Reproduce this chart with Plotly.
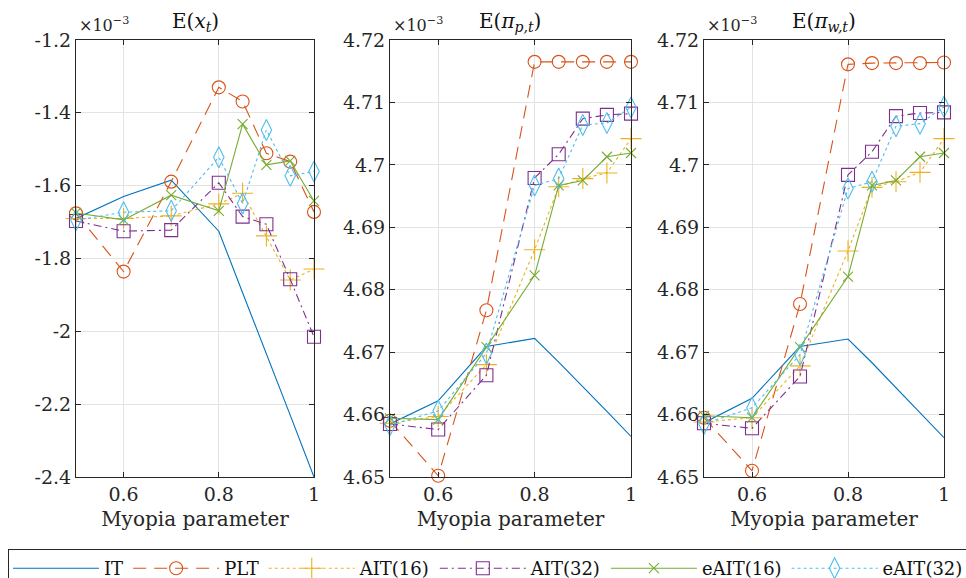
import plotly.graph_objects as go

x = [0.5, 0.6, 0.7, 0.8, 0.85, 0.9, 0.95, 1.0]
series_names = ["IT", "PLT", "AIT(16)", "AIT(32)", "eAIT(16)", "eAIT(32)"]

# Panel 1: E(x_t), units of 1e-3
ex_IT = [-1.69, -1.63, -1.585, -1.725, -1.894, -2.06, -2.23, -2.40]
ex_PLT = [-1.676, -1.836, -1.589, -1.330, -1.369, -1.511, -1.534, -1.672]
ex_AIT16 = [-1.690, -1.690, -1.683, -1.650, -1.621, -1.738, -1.859, -1.829]
ex_AIT32 = [-1.697, -1.725, -1.722, -1.592, -1.685, -1.706, -1.857, -2.015]
ex_eAIT16 = [-1.675, -1.694, -1.626, -1.669, -1.431, -1.543, -1.532, -1.642]
ex_eAIT32 = [-1.695, -1.673, -1.669, -1.522, -1.649, -1.447, -1.573, -1.561]

# Panel 2: E(pi_p,t), units of 1e-3
pp_IT = [4.6585, 4.6622, 4.6709, 4.6722, 4.6684, 4.6645, 4.6605, 4.6565]
pp_PLT = [4.6590, 4.6502, 4.6767, 4.7165, 4.7165, 4.7165, 4.7165, 4.7165]
pp_AIT16 = [4.6586, 4.6597, 4.6680, 4.6864, 4.6965, 4.6978, 4.6987, 4.7042]
pp_AIT32 = [4.6585, 4.6576, 4.6663, 4.6979, 4.7017, 4.7074, 4.7080, 4.7082]
pp_eAIT16 = [4.6594, 4.6592, 4.6708, 4.6823, 4.6967, 4.6975, 4.7013, 4.7019]
pp_eAIT32 = [4.6583, 4.6606, 4.6698, 4.6967, 4.6978, 4.7064, 4.7067, 4.7092]

# Panel 3: E(pi_w,t), units of 1e-3
pw_IT = [4.6587, 4.6626, 4.6709, 4.6721, 4.6683, 4.6643, 4.6603, 4.6563]
pw_PLT = [4.6595, 4.6510, 4.6777, 4.7161, 4.7163, 4.7163, 4.7163, 4.7164]
pw_AIT16 = [4.6588, 4.6595, 4.6678, 4.6862, 4.6964, 4.6973, 4.6988, 4.7042]
pw_AIT32 = [4.6586, 4.6578, 4.6661, 4.6984, 4.7021, 4.7078, 4.7083, 4.7084]
pw_eAIT16 = [4.6598, 4.6595, 4.6708, 4.6821, 4.6967, 4.6975, 4.7013, 4.7019]
pw_eAIT32 = [4.6585, 4.6611, 4.6696, 4.6962, 4.6973, 4.7062, 4.7066, 4.7093]

panel_titles = ["E(<i>x</i><sub><i>t</i></sub>)",
                "E(<i>π</i><sub><i>p,t</i></sub>)",
                "E(<i>π</i><sub><i>w,t</i></sub>)"]
x_tickvals = [0.6, 0.8, 1.0]
x_ticktext = ["0.6", "0.8", "1"]
y1_tickvals = [-2.4, -2.2, -2.0, -1.8, -1.6, -1.4, -1.2]
y1_ticktext = ["-2.4", "-2.2", "-2", "-1.8", "-1.6", "-1.4", "-1.2"]
y2_tickvals = [4.65, 4.66, 4.67, 4.68, 4.69, 4.70, 4.71, 4.72]
y2_ticktext = ["4.65", "4.66", "4.67", "4.68", "4.69", "4.7", "4.71", "4.72"]

colors = ["#0072BD", "#D95319", "#EDB120", "#7E2F8E", "#77AC30", "#4DBEEE"]
dashes = ["solid", "13px,8px", "dot", "8px,4px,2px,4px", "solid", "dot"]
symbols = [None, "circle-open", "cross-thin-open", "square-open", "x-thin-open", "diamond-tall-open"]
msizes = [0, 13, 15, 13, 10, 15]

panels = [
    [ex_IT, ex_PLT, ex_AIT16, ex_AIT32, ex_eAIT16, ex_eAIT32],
    [pp_IT, pp_PLT, pp_AIT16, pp_AIT32, pp_eAIT16, pp_eAIT32],
    [pw_IT, pw_PLT, pw_AIT16, pw_AIT32, pw_eAIT16, pw_eAIT32],
]

W, H = 966, 578
xdoms = [(76, 314), (390, 631), (704, 944)]
ytop, ybot = 40, 477
FONT = "DejaVu Serif"

fig = go.Figure()
for p, data in enumerate(panels):
    xa = "x" if p == 0 else f"x{p+1}"
    ya = "y" if p == 0 else f"y{p+1}"
    for i, ys in enumerate(data):
        kw = dict(x=x, y=ys, name=series_names[i], legendgroup=series_names[i],
                  showlegend=(p == 0), xaxis=xa, yaxis=ya, cliponaxis=False,
                  line=dict(color=colors[i], width=1.1, dash=dashes[i]))
        if symbols[i] is None:
            kw["mode"] = "lines"
        else:
            kw["mode"] = "lines+markers"
            kw["marker"] = dict(symbol=symbols[i], size=msizes[i], color=colors[i],
                                line=dict(color=colors[i], width=1.1))
        fig.add_trace(go.Scatter(**kw))

axis_common = dict(showline=True, linecolor="#262626", linewidth=1, mirror="ticks",
                   ticks="inside", ticklen=5, tickcolor="#262626",
                   showgrid=True, gridcolor="#e3e3e3", gridwidth=1, zeroline=False,
                   tickfont=dict(family=FONT, size=19, color="#262626"))
layout = dict(width=W, height=H, margin=dict(l=0, r=0, t=0, b=0, autoexpand=False),
              plot_bgcolor="white", paper_bgcolor="white",
              font=dict(family=FONT, color="#262626"))
annotations = []
for p in range(3):
    sfx = "" if p == 0 else str(p + 1)
    x0, x1 = xdoms[p]
    layout["xaxis" + sfx] = dict(axis_common, domain=[x0 / W, x1 / W], range=[0.5, 1.0],
                                 tickvals=x_tickvals, ticktext=x_ticktext,
                                 anchor="y" + sfx,
                                 title=dict(text="Myopia parameter", standoff=8,
                                            font=dict(family=FONT, size=20, color="#262626")))
    if p == 0:
        yr, tv, tt = [-2.4, -1.2], y1_tickvals, y1_ticktext
    else:
        yr, tv, tt = [4.65, 4.72], y2_tickvals, y2_ticktext
    layout["yaxis" + sfx] = dict(axis_common, domain=[(H - ybot) / H, (H - ytop) / H],
                                 range=yr, tickvals=tv, ticktext=tt, anchor="x" + sfx)
    annotations.append(dict(text=panel_titles[p], x=(x0 + x1) / 2 / W, y=(H - ytop + 3) / H,
                            xref="paper", yref="paper", xanchor="center", yanchor="bottom",
                            showarrow=False, font=dict(family=FONT, size=20, color="#111")))
    annotations.append(dict(text="×10<sup>−3</sup>", x=(x0 + 1) / W, y=(H - ytop + 3) / H,
                            xref="paper", yref="paper", xanchor="left", yanchor="bottom",
                            showarrow=False, font=dict(family=FONT, size=16, color="#262626")))
layout["annotations"] = annotations
layout["legend"] = dict(orientation="h", x=8 / W, y=(H - 549) / H, xanchor="left", yanchor="top",
                        bordercolor="#262626", borderwidth=1, bgcolor="white",
                        itemwidth=86, font=dict(family=FONT, size=18, color="#111"))
fig.update_layout(**layout)
fig.write_html("out.html")
